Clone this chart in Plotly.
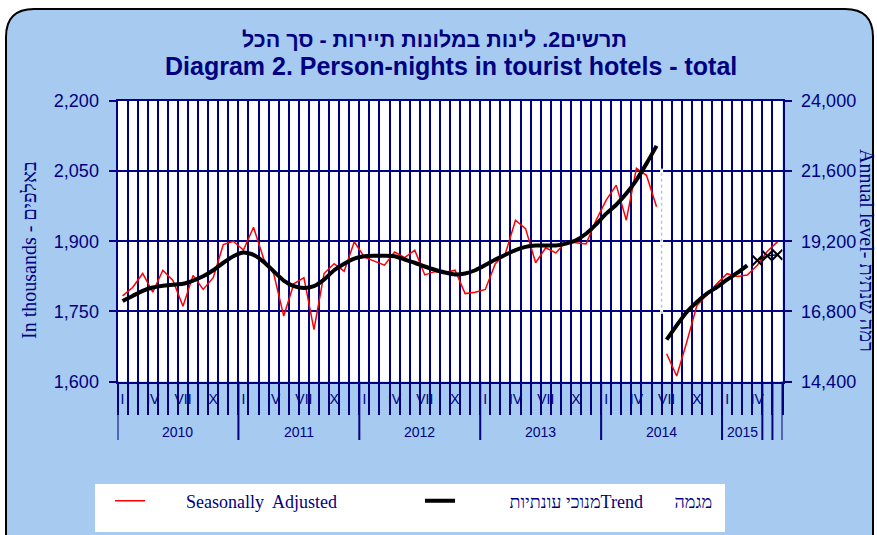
import plotly.graph_objects as go

# ---------------- data ----------------
years = [2010, 2011, 2012, 2013, 2014, 2015]
month_roman = {0: "I", 3: "IV", 6: "VII", 9: "X"}
n_months = 66  # Jan 2010 - Jun 2015

# Seasonally adjusted, thousands (left axis), Jan 2010 - Jul 2014
sa_left = [1783, 1801, 1831, 1791, 1838, 1816, 1761, 1827, 1797, 1822, 1893, 1900,
           1881, 1930, 1863, 1831, 1740, 1809, 1822, 1711, 1831, 1852, 1836, 1899,
           1866, 1857, 1849, 1877, 1865, 1881, 1828, 1835, 1833, 1838, 1788, 1791,
           1797, 1852, 1874, 1945, 1927, 1854, 1886, 1875, 1899, 1897, 1894, 1945,
           1988, 2020, 1945, 2056, 2041, 1974]
# Trend, thousands (left axis), Jan 2010 - Jul 2014
trend_left = [1772, 1783, 1794, 1801, 1805, 1807, 1809, 1816, 1825, 1838, 1854, 1868,
              1876, 1871, 1856, 1836, 1816, 1804, 1800, 1804, 1818, 1838, 1852, 1863,
              1868, 1869, 1869, 1868, 1861, 1854, 1846, 1839, 1833, 1829, 1831, 1838,
              1849, 1861, 1871, 1881, 1888, 1891, 1891, 1891, 1895, 1902, 1916, 1936,
              1959, 1978, 2002, 2031, 2066, 2104]
# Annual level (right axis), Aug 2014 - Jun 2015
sa_right = [15350, 14590, 15750, 17000, 17370, 17750, 18090, 17990, 18045, 18377,
            18860, 19177]
trend_right = [15830, 16320, 16777, 17120, 17406, 17634, 17886, 18114, 18377]
trend_forecast = [18540, 18700, 18740]

left_ticks = [1600, 1750, 1900, 2050, 2200]
right_ticks = [14400, 16800, 19200, 21600, 24000]

# ---------------- helpers ----------------
W, H = 877, 535
NAVY = "#000080"
SANS = "Liberation Sans, Arial, DejaVu Sans, sans-serif"
SERIF = "Liberation Serif, Times New Roman, DejaVu Serif, serif"


def px(xp):
    return xp / W


def py(yp):
    return 1 - yp / H


months = list(range(n_months))
n_left = len(sa_left)
x_left = months[:n_left]
x_sa_right = months[n_left:n_left + len(sa_right)]
x_tr_right = months[n_left:n_left + len(trend_right)]
x_fc = months[n_left + len(trend_right):n_left + len(trend_right) + len(trend_forecast)]

fig = go.Figure()
fig.add_trace(go.Scatter(x=x_left, y=sa_left, mode="lines", yaxis="y",
                         line=dict(color="#FF0000", width=1.5),
                         name="\u00a0" * 8 + "Seasonally  Adjusted", legend="legend"))
fig.add_trace(go.Scatter(x=x_left, y=trend_left, mode="lines", yaxis="y",
                         line=dict(color="#000000", width=4, shape="spline", smoothing=0.6),
                         name="\u00a0" * 11 + "מנוכי עונתיות" + "Trend" + "\u00a0" * 7 + "מגמה",
                         legend="legend2"))
fig.add_trace(go.Scatter(x=x_sa_right, y=sa_right, mode="lines", yaxis="y2",
                         line=dict(color="#FF0000", width=1.5), showlegend=False))
fig.add_trace(go.Scatter(x=x_tr_right, y=trend_right, mode="lines", yaxis="y2",
                         line=dict(color="#000000", width=4, shape="spline", smoothing=0.6),
                         showlegend=False))
fig.add_trace(go.Scatter(x=x_fc, y=trend_forecast, mode="lines+markers", yaxis="y2",
                         line=dict(color="#000000", width=1.5),
                         marker=dict(symbol="x-thin", size=10,
                                     line=dict(color="#000000", width=2)),
                         showlegend=False))

tickvals = [m for m in months if m % 12 in month_roman]
ticktext = [month_roman[m % 12] for m in tickvals]

x0p, x1p = 117.5, 782.5
ytop, ybot = 101, 381.5

shapes = []
# rounded light-blue frame
fx0, fx1, fyt, fyb = px(6), px(873), py(9), -0.05
rx, ry = 28 / W, 28 / H
shapes.append(dict(type="path", xref="paper", yref="paper", layer="below",
                   path=(f"M {fx0},{fyb} L {fx0},{fyt - ry} Q {fx0},{fyt} {fx0 + rx},{fyt} "
                         f"L {fx1 - rx},{fyt} Q {fx1},{fyt} {fx1},{fyt - ry} L {fx1},{fyb} Z"),
                   fillcolor="#A6CAF0", line=dict(color="#000000", width=2)))
# legend white box
shapes.append(dict(type="rect", xref="paper", yref="paper", layer="below",
                   x0=px(95), x1=px(725), y0=py(532), y1=py(484),
                   fillcolor="#FFFFFF", line=dict(width=0)))
# plot area white
shapes.append(dict(type="rect", xref="x domain", yref="y domain", layer="below",
                   x0=0, x1=1, y0=0, y1=1, fillcolor="#FFFFFF", line=dict(width=0)))
# year dividers (long ticks)
dividers = [12 * k - 0.5 for k in range(len(years))] + [n_months - 2.5, n_months - 1.5, n_months - 0.5]
for d in dividers:
    shapes.append(dict(type="line", xref="x", yref="paper", x0=d, x1=d,
                       y0=py(ybot), y1=py(440), line=dict(color=NAVY, width=2)))
# series break marker (white, dotted look)
shapes.append(dict(type="line", xref="x", yref="y", x0=n_left - 0.5, x1=n_left - 0.5,
                   y0=1745, y1=2055, line=dict(color="#FFFFFF", width=3), layer="above"))
shapes.append(dict(type="line", xref="x", yref="y", x0=n_left - 0.5, x1=n_left - 0.5,
                   y0=1745, y1=2055, line=dict(color="#B8C4E0", width=1.5, dash="dot"),
                   layer="above"))

annotations = []


def ann(**kw):
    base = dict(showarrow=False, xanchor="center", yanchor="middle")
    base.update(kw)
    annotations.append(base)


ann(xref="paper", yref="paper", x=px(434), y=py(40),
    text="<b>תרשים2. לינות במלונות תיירות - סך הכל</b>",
    font=dict(family=SANS, size=21.5, color=NAVY))
ann(xref="paper", yref="paper", x=px(451), y=py(66),
    text="<b>Diagram 2. Person-nights in tourist hotels - total</b>",
    font=dict(family=SANS, size=25, color=NAVY))
ann(xref="paper", yref="paper", x=px(29), y=py(250), textangle=-90,
    text="In thousands - באלפים", font=dict(family=SERIF, size=20, color=NAVY))
ann(xref="paper", yref="paper", x=px(867), y=py(250), textangle=90,
    text="Annual level- רמה שנתית", font=dict(family=SERIF, size=20, color=NAVY))
for k, yr in enumerate(years):
    start = 12 * k - 0.5
    end = min(12 * (k + 1) - 0.5, n_months - 2.5)
    ann(xref="x", yref="paper", x=(start + end) / 2, y=py(432),
        text=str(yr), font=dict(family=SANS, size=14, color=NAVY))

fig.update_layout(
    width=W, height=H,
    margin=dict(l=0, r=0, t=0, b=0, autoexpand=False),
    paper_bgcolor="#FFFFFF", plot_bgcolor="#FFFFFF",
    showlegend=True,
    xaxis=dict(domain=[px(x0p), px(x1p)], range=[-0.5, n_months - 0.5], automargin=False,
               tickmode="array", tickvals=tickvals, ticktext=ticktext,
               ticks="", showgrid=False, zeroline=False,
               showline=True, linecolor=NAVY, linewidth=2, mirror=True,
               tickfont=dict(family=SANS, size=14, color=NAVY),
               ticklabelstandoff=4,
               minor=dict(tickmode="linear", tick0=-0.5, dtick=1, ticks="outside",
                          ticklen=31, tickwidth=2, tickcolor=NAVY,
                          showgrid=True, gridcolor=NAVY, gridwidth=2)),
    yaxis=dict(domain=[py(ybot), py(ytop)], range=[1600, 2200], automargin=False,
               tickmode="array", tickvals=left_ticks, tickformat=",d",
               ticks="outside", ticklen=7, tickwidth=2, tickcolor=NAVY,
               showgrid=True, gridcolor=NAVY, gridwidth=2, zeroline=False,
               showline=True, linecolor=NAVY, linewidth=2,
               tickfont=dict(family=SANS, size=18, color=NAVY), ticklabelstandoff=6),
    yaxis2=dict(overlaying="y", side="right", range=[14400, 24000], automargin=False,
                tickmode="array", tickvals=right_ticks, tickformat=",d",
                ticks="outside", ticklen=7, tickwidth=2, tickcolor=NAVY,
                showgrid=False, zeroline=False,
                showline=True, linecolor=NAVY, linewidth=2,
                tickfont=dict(family=SANS, size=18, color=NAVY), ticklabelstandoff=6),
    legend=dict(x=px(110), y=py(501), xanchor="left", yanchor="middle",
                orientation="h", bgcolor="rgba(0,0,0,0)", borderwidth=0,
                font=dict(family=SERIF, size=18, color=NAVY)),
    legend2=dict(x=px(420), y=py(501), xanchor="left", yanchor="middle",
                 orientation="h", bgcolor="rgba(0,0,0,0)", borderwidth=0,
                 font=dict(family=SERIF, size=18, color=NAVY)),
    shapes=shapes,
    annotations=annotations,
)

fig.write_html("out.html", config={"displayModeBar": False},
               post_script="document.body.style.margin='0px';document.body.style.overflow='hidden';")
